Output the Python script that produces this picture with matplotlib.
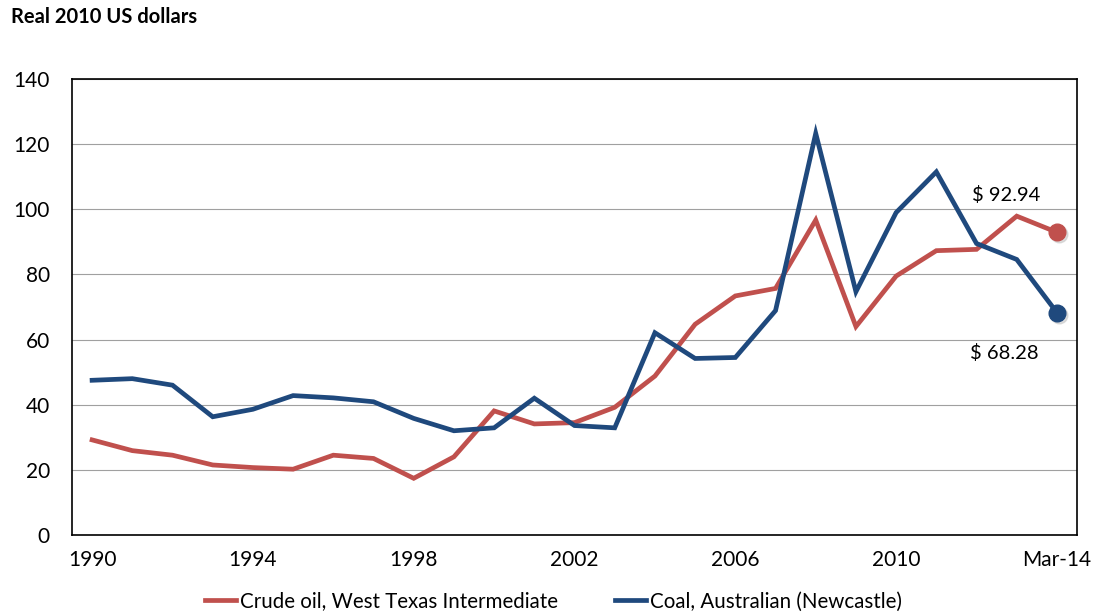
import numpy as np
import matplotlib.pyplot as plt

plt.rcParams['font.family'] = ['Lato', 'DejaVu Sans']

# Periods (annual 1990-2013, then March 2014)
periods = [str(y) for y in range(1990, 2014)] + ['Mar-14']
tick_labels = ['1990', '1994', '1998', '2002', '2006', '2010', 'Mar-14']

# Real 2010 US dollars
oil = [29.2, 25.9, 24.5, 21.5, 20.7, 20.2, 24.5, 23.5, 17.4, 24.0,
       38.1, 34.1, 34.5, 39.2, 48.8, 64.7, 73.4, 75.7, 96.7, 64.0,
       79.5, 87.3, 87.7, 97.9, 92.94]
coal = [47.5, 48.0, 46.0, 36.3, 38.6, 42.8, 42.1, 40.9, 35.8, 32.0,
        32.9, 42.0, 33.6, 32.9, 62.1, 54.2, 54.5, 68.9, 123.3, 74.7,
        99.0, 111.5, 89.5, 84.6, 68.28]

red = '#C0504D'
blue = '#1F497D'

x = np.arange(len(periods))

fig = plt.figure(figsize=(10.96, 6.15), dpi=100)
ax = fig.add_axes([0.0657, 0.1301, 0.9170, 0.7414])

ax.plot(x, oil, color=red, lw=3.4, solid_joinstyle='miter', label='Crude oil, West Texas Intermediate')
ax.plot(x, coal, color=blue, lw=3.4, solid_joinstyle='miter', label='Coal, Australian (Newcastle)')

# end markers with a faint shadow
for vals, c in [(oil, red), (coal, blue)]:
    ax.plot(x[-1] + 0.04, vals[-1] - 0.6, 'o', ms=12, color='#c8c8c8', alpha=0.6, zorder=4)
    ax.plot(x[-1], vals[-1], 'o', ms=12, color=c, zorder=5)

ax.text(x[-1] - 1.25, oil[-1] + 11.5, '$ %.2f' % oil[-1], fontsize=14.5, ha='center', va='center')
ax.text(x[-1] - 1.3, coal[-1] - 12.5, '$ %.2f' % coal[-1], fontsize=14.5, ha='center', va='center')

ax.set_xlim(-0.5, len(periods) - 0.5)
ax.set_ylim(0, 140)
ax.set_yticks(range(0, 141, 20))
ax.set_xticks([periods.index(t) for t in tick_labels])
ax.set_xticklabels(tick_labels)
ax.tick_params(length=0, labelsize=15)
ax.tick_params(axis='y', pad=16)
ax.tick_params(axis='x', pad=11)
ax.yaxis.grid(True, color='#a0a0a0', lw=0.8)
ax.set_axisbelow(True)
for s in ax.spines.values():
    s.set_color('black')
    s.set_linewidth(1.2)

fig.text(0.010, 0.972, 'Real 2010 US dollars', fontsize=14.5, fontweight='bold', va='center')

fig.legend(loc='center', bbox_to_anchor=(0.505, 0.022), ncol=2, frameon=False,
           fontsize=14.8, handlelength=1.5, handletextpad=0.2, columnspacing=2.8)

plt.savefig('out.png', dpi=100)
plt.close()
